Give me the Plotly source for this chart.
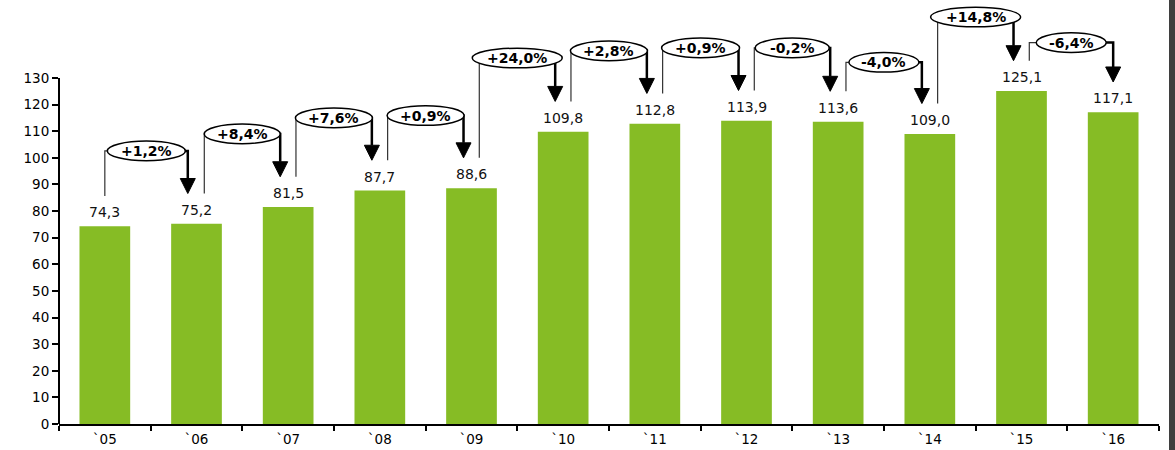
import plotly.graph_objects as go

# ---- data ----
years = ["`05", "`06", "`07", "`08", "`09", "`10", "`11", "`12", "`13", "`14", "`15", "`16"]
values = [74.3, 75.2, 81.5, 87.7, 88.6, 109.8, 112.8, 113.9, 113.6, 109.0, 125.1, 117.1]
changes = ["+1,2%", "+8,4%", "+7,6%", "+0,9%", "+24,0%", "+2,8%", "+0,9%",
           "-0,2%", "-4,0%", "+14,8%", "-6,4%"]
y_ticks = list(range(0, 131, 10))

# ---- connector layout (positions only) ----
bubble_level = [102.6, 109.0, 115.0, 115.9, 137.5, 140.2, 141.3, 141.3, 135.9, 152.9, 143.3]
bubble_w_px = [78, 76, 77, 77, 90, 77, 78, 74, 70, 90, 70]
left_off = [0.0] + [0.085] * 10
right_off = [-0.095] + [-0.087] * 9 + [0.0]

W, H = 1175, 450
ML, MR, MT, MB = 59, 16, 4, 26
Y_TOP = 157.8
PX_X = (W - ML - MR) / len(years)
PX_Y = (H - MT - MB) / Y_TOP
GAP = 11.4

GREEN = "#86BC25"
FONT = "DejaVu Sans"

fig = go.Figure()
fig.add_trace(go.Bar(
    x=years, y=values, marker=dict(color=GREEN, line=dict(width=0)),
    hoverinfo="skip", showlegend=False,
))

shapes = []
annotations = []

# value labels
for i, v in enumerate(values):
    annotations.append(dict(
        x=i, y=v, xref="x", yref="y", text=f"{v:.1f}".replace(".", ","),
        showarrow=False, yanchor="bottom", yshift=4,
        font=dict(family=FONT, size=14, color="#111"),
    ))

head_h = 15 / PX_Y
head_w = 7.5 / PX_X
ell_h = 9.8 / PX_Y
for i, txt in enumerate(changes):
    xl = i + left_off[i]
    xr = i + 1 + right_off[i]
    xc = (xl + xr) / 2
    yc = bubble_level[i]
    yl0 = values[i] + GAP
    yr0 = values[i + 1] + GAP
    shapes.append(dict(type="path", xref="x", yref="y",
                       path=f"M {xl} {yl0} L {xl} {yc} L {xc} {yc}",
                       line=dict(color="#333", width=1.2)))
    shapes.append(dict(type="path", xref="x", yref="y",
                       path=f"M {xc} {yc} L {xr} {yc} L {xr} {yr0 + head_h}",
                       line=dict(color="#000", width=2.5)))
    shapes.append(dict(type="path", xref="x", yref="y",
                       path=(f"M {xr - head_w} {yr0 + head_h} L {xr + head_w} {yr0 + head_h} "
                             f"L {xr} {yr0} Z"),
                       fillcolor="#000", line=dict(color="#000", width=1)))
    half_w = bubble_w_px[i] / 2 / PX_X
    shapes.append(dict(type="circle", xref="x", yref="y",
                       x0=xc - half_w, x1=xc + half_w, y0=yc - ell_h, y1=yc + ell_h,
                       fillcolor="white", line=dict(color="#000", width=1.5)))
    annotations.append(dict(
        x=xc, y=yc, xref="x", yref="y", text=txt, showarrow=False,
        font=dict(family=FONT, size=14, color="#000", weight="bold"),
    ))

# y axis line only up to 130
shapes.append(dict(type="line", xref="paper", yref="y", x0=0, x1=0, y0=0, y1=130,
                   line=dict(color="#000", width=2)))
# dark border at right edge
shapes.append(dict(type="rect", xref="paper", yref="paper",
                   x0=(1169 - ML) / (W - ML - MR), x1=(1180 - ML) / (W - ML - MR),
                   y0=-0.2, y1=1.2, fillcolor="#3f3f3f", line=dict(width=0), layer="above"))

fig.update_layout(
    width=W, height=H,
    margin=dict(l=ML, r=MR, t=MT, b=MB, pad=0),
    paper_bgcolor="white", plot_bgcolor="white",
    bargap=0.447,
    shapes=shapes, annotations=annotations,
    showlegend=False,
    xaxis=dict(
        type="category", range=[-0.5, 11.5], showgrid=False, zeroline=False,
        showline=True, linecolor="#000", linewidth=2,
        ticks="outside", tickson="boundaries", ticklen=5, tickwidth=2, tickcolor="#000",
        tickfont=dict(family=FONT, size=13.5, color="#000"),
        ticklabelstandoff=2,
        fixedrange=True,
    ),
    yaxis=dict(
        range=[0, Y_TOP], showgrid=False, zeroline=False, showline=False,
        tickmode="array", tickvals=y_ticks, ticktext=[str(t) for t in y_ticks],
        ticks="outside", ticklen=6, tickwidth=2, tickcolor="#000",
        tickfont=dict(family=FONT, size=13.5, color="#000"),
        fixedrange=True,
    ),
)

fig.write_html(
    "out.html",
    config={"displayModeBar": False},
    post_script="document.body.style.margin='0';document.body.style.overflow='hidden';",
)
